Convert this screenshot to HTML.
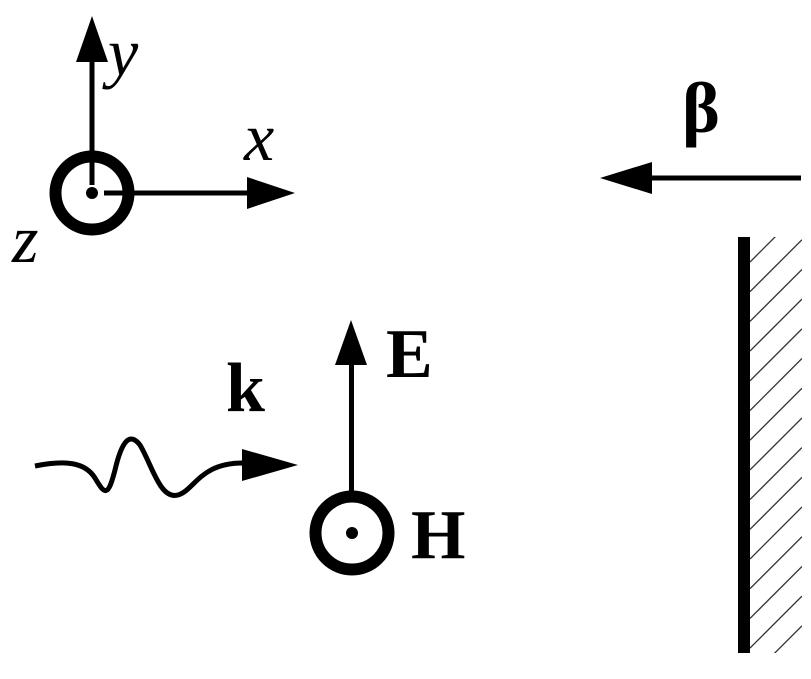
<!DOCTYPE html>
<html><head><style>body{margin:0;background:#fff}svg{display:block}</style></head>
<body>
<svg width="811" height="679" viewBox="0 0 811 679" xmlns="http://www.w3.org/2000/svg">
<defs><clipPath id="c"><rect x="750" y="237" width="52" height="416"/></clipPath></defs>
<g fill="#000" stroke="none">
<rect x="89.5" y="55" width="5" height="130"/>
<polygon points="92,16 76,62 108,62"/>
<rect x="104" y="190.5" width="150" height="5"/>
<polygon points="295,193 247,177 247,209"/>
<circle cx="92" cy="193" r="6"/>
</g>
<circle cx="92" cy="193" r="36.5" fill="none" stroke="#000" stroke-width="12"/>
<g font-family="Liberation Serif, serif" font-style="italic" font-size="68">
<text x="108" y="75">y</text>
<text x="244" y="160">x</text>
<text x="12" y="262">z</text>
</g>
<text x="682" y="132" font-family="Liberation Serif, serif" font-weight="bold" font-size="72">β</text>
<rect x="645" y="175.5" width="156" height="5"/>
<polygon points="600,178 652,162 652,194"/>
<rect x="738" y="237" width="12" height="416"/>
<g clip-path="url(#c)" stroke="#333" stroke-width="1.3">
<line x1="750" y1="262" x2="802" y2="210"/>
<line x1="750" y1="291.7" x2="802" y2="239.7"/>
<line x1="750" y1="321.4" x2="802" y2="269.4"/>
<line x1="750" y1="351.1" x2="802" y2="299.1"/>
<line x1="750" y1="380.8" x2="802" y2="328.8"/>
<line x1="750" y1="410.5" x2="802" y2="358.5"/>
<line x1="750" y1="440.2" x2="802" y2="388.2"/>
<line x1="750" y1="469.9" x2="802" y2="417.9"/>
<line x1="750" y1="499.6" x2="802" y2="447.6"/>
<line x1="750" y1="529.3" x2="802" y2="477.3"/>
<line x1="750" y1="559" x2="802" y2="507"/>
<line x1="750" y1="588.7" x2="802" y2="536.7"/>
<line x1="750" y1="618.4" x2="802" y2="566.4"/>
<line x1="750" y1="648.1" x2="802" y2="596.1"/>
<line x1="750" y1="677.8" x2="802" y2="625.8"/>
</g>
<rect x="349" y="360" width="5" height="132"/>
<polygon points="351,320 335,365 367,365"/>
<circle cx="352" cy="533" r="36.5" fill="none" stroke="#000" stroke-width="12"/>
<circle cx="352" cy="533" r="6"/>
<g font-family="Liberation Serif, serif" font-weight="bold" font-size="70">
<text x="386" y="377">E</text>
<text x="411" y="558">H</text>
<text x="226" y="411">k</text>
</g>
<path d="M35,466 C65,460 85,462 95,478 C105,495 108,497 115,470 C122,440 130,432 140,445 C152,465 160,500 178,495 C195,490 200,462 245,463" fill="none" stroke="#000" stroke-width="5"/>
<polygon points="298,465 242,449 242,481"/>
</svg>
</body></html>
